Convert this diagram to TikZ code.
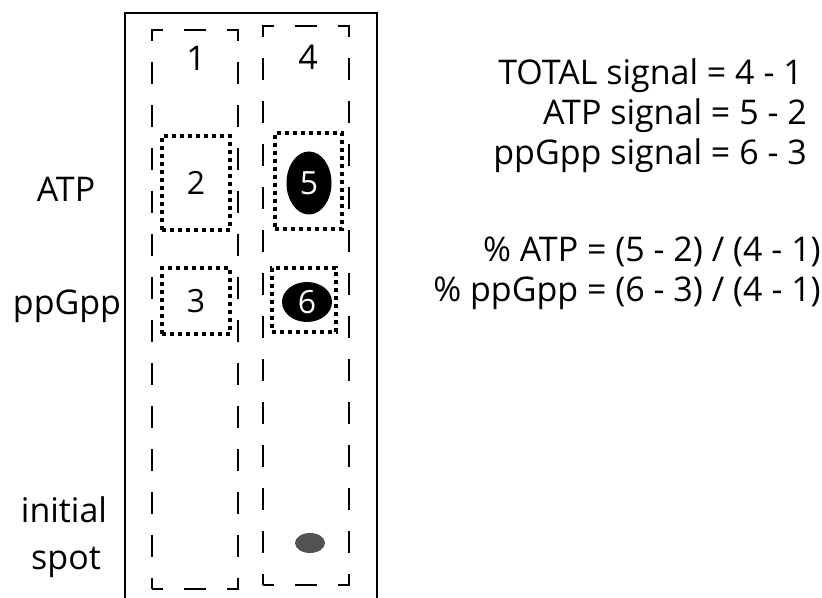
\documentclass[tikz,border=0pt]{standalone}
\usepackage{fontspec}
\setmainfont{Open Sans}
\usetikzlibrary{positioning,shapes.geometric}

\begin{document}
\begin{tikzpicture}[
    x=0.75pt, y=-0.75pt,
    txt/.style={font=\fontsize{25.5}{30}\selectfont, inner sep=0pt},
    lane/.style={draw, line width=1.3pt, minimum width=64.5pt, minimum height=419.25pt,
                 inner sep=0pt, dash pattern=on 16.5pt off 15.75pt, dash phase=8.25pt},
    dotbox/.style={draw, line width=3pt, dash pattern=on 3pt off 3pt, inner sep=0pt,
                   font=\fontsize{24}{28}\selectfont},
    blot/.style={ellipse, fill=black, inner sep=0pt, text=white,
                 font=\fontsize{24}{28}\selectfont}
]
\useasboundingbox (0,0) rectangle (822,598);

% TLC plate (open at the bottom)
\draw[line width=1.2pt] (125,598) -- (125,13) -- (377,13) -- (377,598);

% Lanes
\node[lane] (laneA) at (195,309.5) {};
\node[lane] (laneB) at (306,305.5) {};
\node[txt] (n1) at (196,58) {1};
\node[txt] (n4) at (308,57) {4};

% Boxed areas
\node[dotbox, minimum width=51pt, minimum height=70.5pt] (box2) at (196,183) {2};
\node[dotbox, minimum width=50.25pt, minimum height=72pt] (box5) at (308.5,181) {};
\node[dotbox, minimum width=51pt, minimum height=49.5pt] (box3) at (196,301) {3};
\node[dotbox, minimum width=48pt, minimum height=48pt] (box6) at (304,300) {};

% Spots
\node[blot, minimum width=33.75pt, minimum height=47.25pt] (spot5) at (309,183) {5};
\node[blot, minimum width=37.5pt, minimum height=30pt] (spot6) at (307,302) {6};
\node[ellipse, fill=black!68, minimum width=22.5pt, minimum height=15pt, inner sep=0pt] (origin) at (310,543) {};

% Row labels
\node[txt, anchor=base] (lATP) at (66,202) {ATP};
\node[txt, anchor=base] (lppG) at (67,315) {ppGpp};
\node[txt, anchor=base] (lini) at (64,523) {initial};
\node[txt, anchor=base] (lspot) at (66,570) {spot};

% Formulas
\node[txt, anchor=base east] (f1) at (803,85) {TOTAL signal = 4 - 1};
\node[txt, anchor=base east] (f2) at (807,125) {ATP signal = 5 - 2};
\node[txt, anchor=base east] (f3) at (807,165) {ppGpp signal = 6 - 3};
\node[txt, anchor=base east] (f4) at (821,262) {\% ATP = (5 - 2) / (4 - 1)};
\node[txt, anchor=base east] (f5) at (821,302) {\% ppGpp = (6 - 3) / (4 - 1)};

\end{tikzpicture}
\end{document}
